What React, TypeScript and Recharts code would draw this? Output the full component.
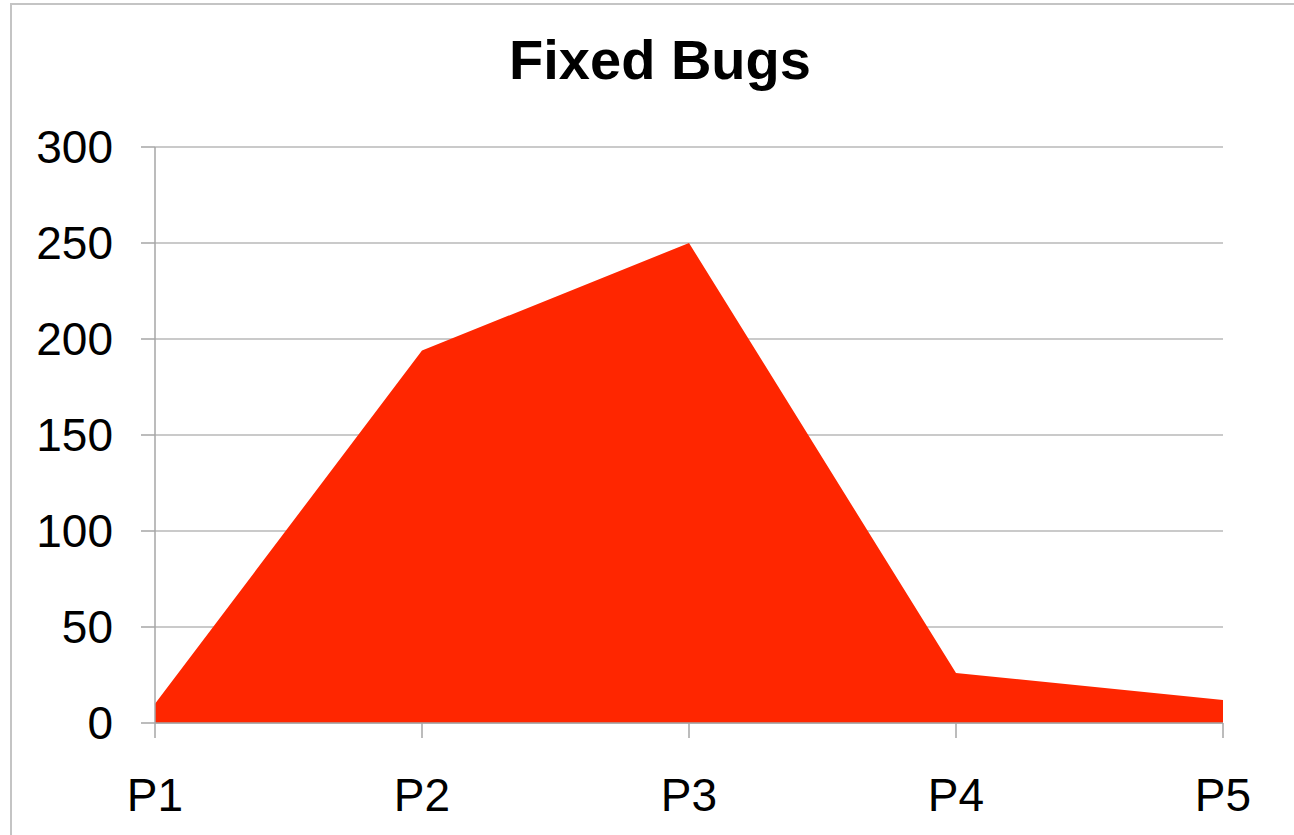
import React from 'react';
import {
  AreaChart,
  Area,
  XAxis,
  YAxis,
  CartesianGrid,
} from 'recharts';

// Chart values
const phases = ['P1', 'P2', 'P3', 'P4', 'P5'];
const fixedBugs = [10, 194, 250, 26, 12];
const yTicks = [0, 50, 100, 150, 200, 250, 300];

const chartData = phases.map((name, i) => ({ name, fixed: fixedBugs[i] }));

const FONT = '"Liberation Sans", Arial, sans-serif';
const AXIS_GRAY = '#a6a6a6';
const GRID_GRAY = '#b8b8b8';

export default function App() {
  return (
    <div
      style={{
        position: 'absolute',
        left: 0,
        top: 0,
        width: 1294,
        height: 835,
        overflow: 'hidden',
        background: '#fff',
        fontFamily: FONT,
      }}
    >
      {/* frame edge (top/left only visible) */}
      <div
        style={{
          position: 'absolute',
          left: 10,
          top: 3,
          width: 1400,
          height: 1000,
          borderTop: '2px solid #c4c4c4',
          borderLeft: '2px solid #c4c4c4',
        }}
      />

      <div
        style={{
          position: 'absolute',
          left: 0,
          top: 28,
          width: 1320,
          textAlign: 'center',
          fontSize: 56,
          fontWeight: 'bold',
          color: '#000',
          lineHeight: '64px',
        }}
      >
        Fixed Bugs
      </div>

      <div style={{ position: 'absolute', left: 0, top: 0 }}>
        <AreaChart
          width={1294}
          height={835}
          data={chartData}
          margin={{ top: 147, right: 71, bottom: 0, left: 0 }}
        >
          <CartesianGrid vertical={false} stroke={GRID_GRAY} strokeWidth={1.5} />
          <XAxis
            dataKey="name"
            height={112}
            stroke={AXIS_GRAY}
            strokeWidth={1.5}
            tickSize={15}
            tickMargin={40}
            tick={{ fontSize: 46, fill: '#000', fontFamily: FONT }}
            interval={0}
          />
          <YAxis
            width={155}
            domain={[0, 300]}
            ticks={yTicks}
            stroke={AXIS_GRAY}
            strokeWidth={1.5}
            tickSize={14}
            tickMargin={28}
            tick={{ fontSize: 46, fill: '#000', fontFamily: FONT }}
            interval={0}
          />
          <Area
            type="linear"
            dataKey="fixed"
            fill="#ff2600"
            fillOpacity={1}
            stroke="none"
            isAnimationActive={false}
          />
        </AreaChart>
      </div>
    </div>
  );
}
